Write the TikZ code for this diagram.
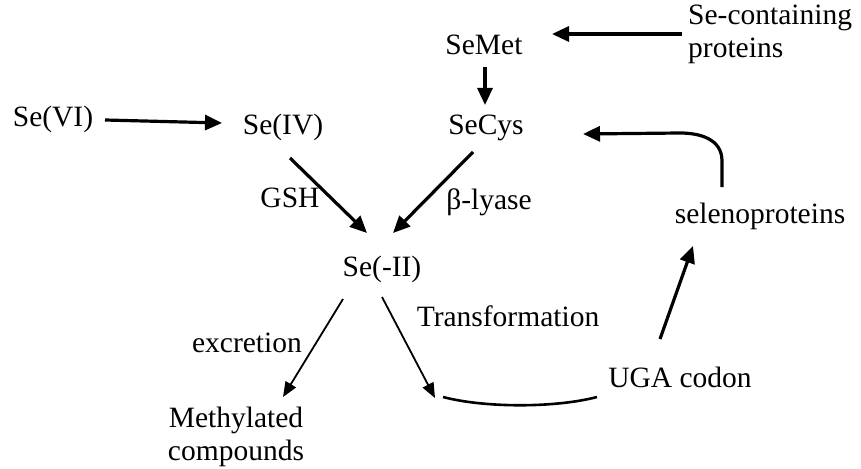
\documentclass[tikz,border=0pt]{standalone}
\usepackage{fontspec}
\setmainfont{Liberation Serif}
\usetikzlibrary{arrows.meta,calc}
\begin{document}
\begin{tikzpicture}[x=1pt,y=-1pt,
  lbl/.style={inner sep=0pt,anchor=base,font=\fontsize{29.5}{33}\selectfont},
  thick arr/.style={line width=3.2pt,-{Triangle[length=17pt,width=15pt]}},
  thin arr/.style={line width=1.8pt,-{Triangle[length=15pt,width=12pt]}},
  curveline/.style={line width=2.6pt}]
\useasboundingbox (0,0) rectangle (861,468);
\fill[white] (0,0) rectangle (861,468);
\node[lbl] (SeVI) at (53,127) {Se(VI)};
\node[lbl] (SeIV) at (283,134) {Se(IV)};
\node[lbl] (SeMet) at (484,55) {SeMet};
\node[lbl] (SeCys) at (486,135) {SeCys};
\node[lbl] (blyase) at (489,209) {β-lyase};
\node[lbl] (selen) at (760,223) {selenoproteins};
\node[lbl,anchor=north west,align=left] (secont) at (688,5) {Se-containing\\proteins};
\node[lbl] (GSH) at (290,207) {GSH};
\node[lbl] (SeII) at (382,276) {Se(-II)};
\node[lbl] (excr) at (247,352) {excretion};
\node[lbl,anchor=north,align=center] (methyl) at (236,407) {Methylated\\compounds};
\node[lbl] (transf) at (508,326) {Transformation};
\node[lbl] (UGA) at (680,387) {UGA codon};
\coordinate (tj) at (435,398);
% connectors
\draw[thick arr] ($(SeVI.base)+(52,-7)$) -- ($(SeIV.base)+(-61,-11)$);
\draw[thick arr] ($(secont.north west)+(-6,29)$) -- ($(SeMet.base)+(68,-21)$);
\draw[thick arr] ($(SeMet.base)+(1,12)$) -- ($(SeCys.base)+(-1,-30)$);
\draw[thick arr] ($(selen.base)+(-38,-36)$) -- ($(selen.base)+(-38,-62)$)
   .. controls ($(selen.base)+(-38,-84)$) and ($(selen.base)+(-60,-90)$) .. ($(selen.base)+(-80,-90)$)
   -- ($(SeCys.base)+(97,-1)$);
\draw[thick arr] ($(SeIV.base)+(7,24)$) -- ($(SeII.base)+(-15,-43)$);
\draw[thick arr] ($(SeCys.base)+(-13,17)$) -- ($(SeII.base)+(11,-43)$);
\draw[thin arr] ($(SeII.base)+(-39,23)$) -- ($(methyl.north)+(47,-10)$);
\draw[thin arr] ($(SeII.base)+(0,21)$) -- (tj);
\draw[curveline] ($(UGA.base)+(-83,10)$) .. controls ($(UGA.base)+(-125,21)$) and ($(UGA.base)+(-195,21)$) .. ($(tj)+(8,-1)$);
\draw[thick arr] ($(UGA.base)+(-20,-48)$) -- ($(selen.base)+(-67,23)$);
\end{tikzpicture}
\end{document}
